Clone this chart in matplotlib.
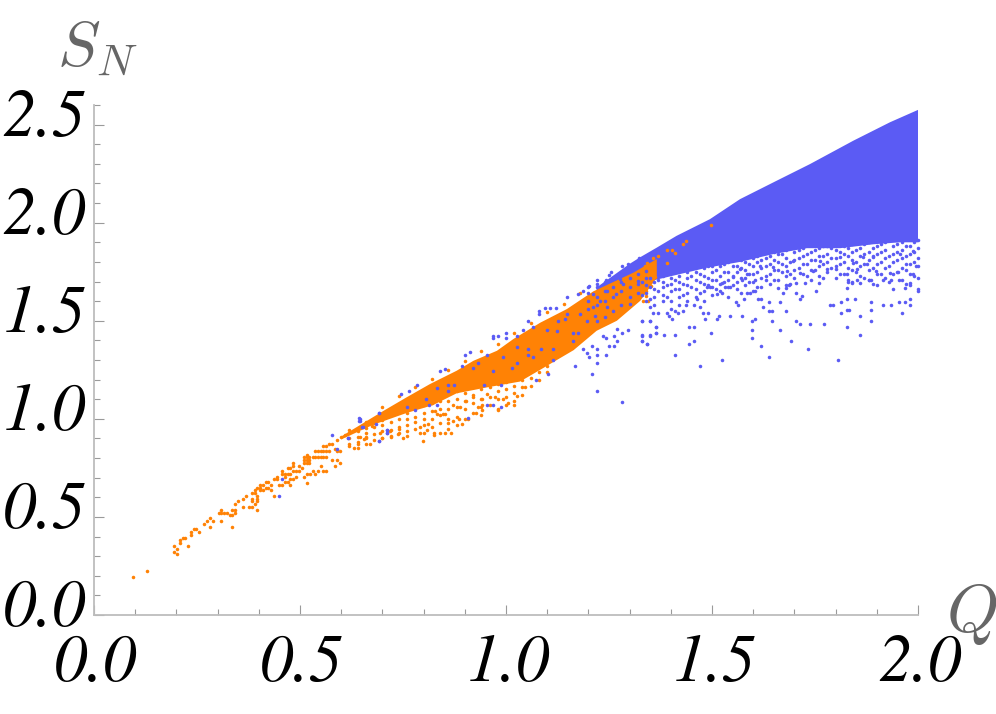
# Entropy vs charge scatter, two phases.

import matplotlib
matplotlib.use("Agg")
import matplotlib.pyplot as plt
import numpy as np
from matplotlib.ticker import MultipleLocator

plt.rcParams["mathtext.fontset"] = "cm"

BLUE = "#5b5bf4"
ORANGE = "#ff8205"

x_ticks = [0.0, 0.5, 1.0, 1.5, 2.0]
y_ticks = [0.0, 0.5, 1.0, 1.5, 2.0, 2.5]

# Outline of the solid (saturated) parts of each cloud
blue_band_q = [1.22, 1.30, 1.333, 1.366, 1.406, 1.487, 1.568, 1.649, 1.73, 1.811, 1.892, 1.957, 2.0]
blue_band_low = [1.60, 1.66, 1.69, 1.71, 1.73, 1.77, 1.80, 1.84, 1.87, 1.87, 1.89, 1.90, 1.90]
blue_band_q_top = [1.22, 1.30, 1.325, 1.366, 1.414, 1.495, 1.568, 1.657, 1.738, 1.843, 1.932, 2.0]
blue_band_top = [1.67, 1.79, 1.823, 1.873, 1.933, 2.018, 2.12, 2.214, 2.299, 2.418, 2.512, 2.575]

orange_band_q = [0.60, 0.678, 0.759, 0.823, 0.88, 0.953, 1.034, 1.083, 1.164, 1.22, 1.269, 1.326, 1.366]
orange_band_low = [0.895, 0.97, 1.03, 1.07, 1.13, 1.16, 1.19, 1.25, 1.35, 1.449, 1.50, 1.602, 1.72]
orange_band_q_top = [0.60, 0.702, 0.759, 0.816, 0.88, 0.921, 0.978, 1.018, 1.083, 1.148, 1.212, 1.309, 1.366]
orange_band_top = [0.91, 1.04, 1.11, 1.178, 1.245, 1.296, 1.347, 1.407, 1.49, 1.56, 1.65, 1.745, 1.815]

# Loose points
orange_q = [
    0.094, 0.128, 0.195, 0.195, 0.201, 0.201, 0.208, 0.208, 0.215, 0.222, 0.229, 0.236, 0.236, 0.242, 0.248,
    0.255, 0.268, 0.275, 0.282, 0.282, 0.289, 0.303, 0.309, 0.309, 0.309, 0.316, 0.322, 0.329, 0.336, 0.336,
    0.336, 0.342, 0.342, 0.342, 0.349, 0.362, 0.362, 0.370, 0.377, 0.384, 0.384, 0.384, 0.39, 0.396, 0.396,
    0.396, 0.396, 0.384, 0.39, 0.39, 0.396, 0.404, 0.404, 0.41, 0.404, 0.41, 0.417, 0.423, 0.417, 0.423,
    0.43, 0.43, 0.437, 0.437, 0.443, 0.443, 0.45, 0.456, 0.456, 0.456, 0.463, 0.463, 0.47, 0.476, 0.47,
    0.476, 0.484, 0.484, 0.484, 0.463, 0.47, 0.476, 0.484, 0.476, 0.49, 0.49, 0.497, 0.497, 0.504, 0.51,
    0.517, 0.523, 0.51, 0.517, 0.523, 0.51, 0.517, 0.523, 0.517, 0.517, 0.51, 0.517, 0.524, 0.531, 0.537,
    0.544, 0.557, 0.564, 0.537, 0.544, 0.551, 0.557, 0.564, 0.57, 0.531, 0.537, 0.544, 0.551, 0.557, 0.564,
    0.551, 0.578, 0.591, 0.584, 0.598, 0.571, 0.578, 0.557, 0.564, 0.584, 0.591, 0.597, 0.59, 0.60, 0.61,
    0.866, 0.853, 0.799, 0.826, 0.826, 0.809, 0.791, 0.759, 0.739, 0.718, 0.694, 0.674, 0.646, 0.892, 0.872,
    0.887, 0.908, 0.86, 0.848, 0.828, 0.888, 0.904, 0.926, 0.941, 0.933, 0.941, 0.953, 0.941, 0.981, 0.993,
    1.006, 1.02, 1.026, 1.046, 0.973, 0.92, 0.872, 0.852, 0.832, 0.811, 0.791, 0.63, 0.655, 0.67, 0.70,
    0.72, 0.74, 0.75, 0.62, 0.64, 0.66,
    1.497, 1.43, 1.437, 1.403, 1.41, 1.39, 1.369, 1.356, 1.343, 1.337, 1.39, 1.361, 1.349, 1.353, 1.333,
    1.333, 1.341, 1.329, 1.32, 1.31, 1.33, 1.345, 1.30, 1.34,
]
orange_s = [
    0.195, 0.224, 0.352, 0.323, 0.338, 0.31, 0.381, 0.366, 0.394, 0.394, 0.352, 0.423, 0.408, 0.437, 0.437,
    0.423, 0.466, 0.48, 0.494, 0.451, 0.48, 0.522, 0.536, 0.522, 0.478, 0.522, 0.522, 0.509, 0.451, 0.509,
    0.536, 0.536, 0.522, 0.565, 0.579, 0.592, 0.55, 0.606, 0.55, 0.55, 0.592, 0.579, 0.565, 0.536, 0.607,
    0.592, 0.579, 0.621, 0.621, 0.635, 0.648, 0.648, 0.662, 0.662, 0.635, 0.635, 0.677, 0.677, 0.648, 0.648,
    0.662, 0.635, 0.606, 0.691, 0.691, 0.704, 0.662, 0.662, 0.735, 0.718, 0.704, 0.718, 0.718, 0.718, 0.747,
    0.747, 0.777, 0.76, 0.733, 0.677, 0.677, 0.691, 0.691, 0.662, 0.704, 0.733, 0.733, 0.76, 0.747, 0.803,
    0.803, 0.803, 0.789, 0.789, 0.789, 0.775, 0.775, 0.775, 0.817, 0.718, 0.704, 0.675, 0.718, 0.733, 0.718,
    0.733, 0.733, 0.733, 0.834, 0.834, 0.834, 0.834, 0.834, 0.834, 0.803, 0.803, 0.803, 0.803, 0.803, 0.803,
    0.76, 0.789, 0.789, 0.76, 0.776, 0.874, 0.874, 0.861, 0.861, 0.846, 0.834, 0.834, 0.89, 0.905, 0.92,
    0.93, 0.93, 0.888, 0.93, 0.917, 0.944, 0.956, 0.913, 0.922, 0.939, 0.93, 0.964, 0.905, 0.973, 0.987,
    0.998, 0.998, 0.981, 1.024, 1.041, 1.058, 1.092, 1.029, 1.044, 1.058, 1.10, 1.129, 1.072, 1.044, 1.10,
    1.083, 1.072, 1.114, 1.16, 1.109, 1.109, 1.072, 1.024, 1.024, 0.973, 0.93, 0.85, 0.895, 0.87, 0.90,
    0.915, 0.95, 0.90, 0.86, 0.87, 0.905,
    1.99, 1.891, 1.905, 1.862, 1.848, 1.862, 1.831, 1.82, 1.792, 1.777, 1.792, 1.721, 1.752, 1.678, 1.653,
    1.602, 1.653, 1.738, 1.72, 1.70, 1.68, 1.60, 1.66, 1.625,
]

# Crowded rim of the orange band, one row per Q column
orange_col_q = [0.62, 0.64, 0.66, 0.68, 0.70, 0.72, 0.74, 0.76, 0.78, 0.80, 0.82, 0.84, 0.86,
                0.88, 0.90, 0.92, 0.94, 0.96, 0.98, 1.00, 1.02, 1.04, 1.06, 1.08, 1.10, 1.14, 1.18]
orange_col_s = [
    [0.87, 0.90, 0.93, 0.945], [0.85, 0.88, 0.91, 0.94], [0.87, 0.90, 0.93, 0.955, 0.985],
    [0.89, 0.925, 0.96, 0.98], [0.90, 0.94, 0.97, 0.995, 1.02, 1.06], [0.91, 0.945, 0.985, 1.03],
    [0.93, 0.96, 1.00, 1.05, 1.115], [0.94, 0.97, 1.00, 1.03], [0.95, 0.985, 1.01, 1.06, 1.16],
    [0.93, 0.97, 1.00, 1.03, 1.07], [0.96, 1.00, 1.04, 1.08, 1.205], [0.93, 0.98, 1.02, 1.05, 1.09],
    [0.95, 1.00, 1.05, 1.09, 1.13, 1.25], [0.97, 1.01, 1.06, 1.10, 1.14], [1.00, 1.05, 1.09, 1.13, 1.17, 1.295],
    [1.03, 1.08, 1.12, 1.16, 1.19], [1.02, 1.06, 1.10, 1.15, 1.18, 1.345], [1.07, 1.11, 1.16, 1.20],
    [1.05, 1.10, 1.14, 1.18, 1.21, 1.38], [1.07, 1.11, 1.15, 1.19, 1.23], [1.09, 1.13, 1.17, 1.21, 1.44],
    [1.12, 1.16, 1.20, 1.23], [1.17, 1.21, 1.25, 1.49], [1.20, 1.24], [1.24, 1.27, 1.545],
    [1.585], [1.64],
]

blue_q = [
    # far below the saturated part
    1.471, 1.41, 1.525, 1.639, 1.806, 1.733, 1.619, 1.692, 1.598, 1.444, 1.457, 1.41, 1.383, 1.363, 1.349,
    1.329, 1.329, 1.343, 1.497, 1.598, 1.666, 1.827, 1.86, 1.444, 1.457, 1.363, 1.329, 1.349, 1.598, 1.605,
    1.645, 1.705, 1.713, 1.739, 1.772, 1.886, 1.86, 1.511, 1.518, 1.484, 1.544, 1.572, 1.403, 1.396, 1.369,
    1.356, 1.349, 1.39, 1.41, 1.43, 1.418, 1.477, 1.491, 1.471, 1.457, 1.464, 1.437,
    1.786, 1.793, 1.813, 1.827, 1.847, 1.813, 1.827, 1.833, 1.886, 1.886, 1.914, 1.934, 1.954, 1.968, 1.981,
    1.961, 1.981, 1.968, 1.981, 2.0, 1.954, 1.934, 1.914, 1.886, 1.88, 1.86, 1.853, 1.84, 1.831, 1.827,
    1.495, 1.489, 1.511, 1.525, 1.531, 1.544, 1.558, 1.564, 1.578, 1.584, 1.592, 1.605, 1.612, 1.619, 1.624,
    1.639, 1.645, 1.639, 1.666, 1.673, 1.679, 1.686, 1.659, 1.713, 1.705, 1.719, 1.753, 1.725, 1.759, 1.705,
    1.679, 1.632, 1.605, 1.572, 1.525, 1.552, 1.778, 1.802, 1.827, 1.851, 1.875, 1.899, 1.932, 1.952, 1.972,
    1.988, 1.996, 1.746, 1.713, 1.681, 1.649, 1.616, 1.584, 1.568, 1.697, 1.762, 1.81, 1.843, 1.891, 1.956,
    1.988, 1.867,
    # around and on the orange band
    1.282, 1.222, 1.209, 1.168, 1.222, 1.202, 1.196, 1.188, 1.222, 1.243, 1.222, 1.209, 1.249, 1.263, 1.269,
    1.236, 1.243, 1.263, 1.282, 1.296, 1.269, 1.33, 1.343, 1.349, 1.33, 1.363, 1.363, 1.33, 1.349, 1.101,
    1.074, 0.947, 0.953, 0.968, 0.987, 0.907, 0.84, 0.853, 0.785, 0.765, 0.746, 0.90, 0.913, 0.968, 0.98,
    0.968, 1.0, 1.0, 1.054, 1.081, 1.081, 1.095, 1.108, 1.121, 1.148, 1.175, 1.188, 1.202, 1.222, 1.243,
    1.249, 1.256, 1.282, 1.296, 1.323, 0.646, 0.646, 0.692, 0.711, 0.711, 0.617, 0.692, 0.652,
    0.759, 0.779, 0.806, 0.812, 0.832, 0.832, 0.86, 0.873, 0.86, 0.893, 0.92, 0.933, 0.953, 0.968, 0.987,
    1.014, 1.027, 0.993, 1.027, 1.054, 1.054, 1.086, 1.115, 1.115, 1.066, 1.026, 1.042, 1.066, 1.099, 1.127,
    1.147, 1.163, 1.175, 1.163, 1.196, 1.216, 1.228, 1.244, 1.212, 1.268, 1.285, 1.301, 1.321, 1.341, 1.277,
    1.244, 1.212, 1.179, 1.143, 1.123,
    # thin left tail
    0.45, 0.456, 0.578, 0.591, 0.617, 0.644, 0.644, 0.651, 0.684, 0.692, 0.692, 0.712, 0.712,
]
blue_s = [
    1.271, 1.327, 1.299, 1.313, 1.299, 1.356, 1.369, 1.398, 1.412, 1.384, 1.398, 1.425, 1.425, 1.44, 1.425,
    1.425, 1.398, 1.384, 1.44, 1.454, 1.454, 1.468, 1.425, 1.468, 1.468, 1.468, 1.497, 1.497, 1.497, 1.51,
    1.497, 1.497, 1.483, 1.483, 1.483, 1.497, 1.524, 1.51, 1.524, 1.51, 1.524, 1.524, 1.51, 1.524, 1.539,
    1.539, 1.568, 1.539, 1.551, 1.551, 1.539, 1.539, 1.539, 1.568, 1.582, 1.61, 1.582,
    1.582, 1.582, 1.595, 1.61, 1.61, 1.539, 1.553, 1.553, 1.595, 1.553, 1.582, 1.582, 1.595, 1.595, 1.582,
    1.539, 1.61, 1.667, 1.694, 1.653, 1.709, 1.709, 1.709, 1.709, 1.709, 1.694, 1.709, 1.694, 1.709, 1.667,
    1.67, 1.67, 1.636, 1.64, 1.67, 1.67, 1.595, 1.582, 1.61, 1.64, 1.64, 1.653, 1.61, 1.61, 1.568,
    1.551, 1.551, 1.595, 1.595, 1.64, 1.667, 1.68, 1.667, 1.61, 1.64, 1.627, 1.653, 1.695, 1.695, 1.695,
    1.551, 1.709, 1.709, 1.709, 1.695, 1.721, 1.764, 1.764, 1.738, 1.764, 1.789, 1.755, 1.746, 1.75, 1.789,
    1.738, 1.78, 1.755, 1.746, 1.755, 1.772, 1.78, 1.738, 1.764, 1.806, 1.806, 1.823, 1.797, 1.823, 1.84,
    1.857, 1.823,
    1.087, 1.143, 1.228, 1.269, 1.284, 1.313, 1.338, 1.354, 1.327, 1.327, 1.354, 1.369, 1.369, 1.369, 1.396,
    1.423, 1.41, 1.423, 1.44, 1.452, 1.457, 1.396, 1.381, 1.423, 1.423, 1.466, 1.437, 1.497, 1.497, 1.228,
    1.199, 1.172, 1.072, 1.072, 1.058, 1.002, 1.242, 1.255, 1.172, 1.143, 1.129, 1.327, 1.34, 1.423, 1.423,
    1.41, 1.44, 1.41, 1.497, 1.551, 1.537, 1.565, 1.565, 1.565, 1.622, 1.636, 1.65, 1.678, 1.707, 1.707,
    1.735, 1.748, 1.777, 1.791, 1.82, 1.0, 0.987, 1.029, 0.944, 0.93, 0.902, 0.888, 0.959,
    1.058, 1.044, 1.10, 1.072, 1.072, 1.157, 1.172, 1.172, 1.143, 1.27, 1.257, 1.284, 1.327, 1.242, 1.172,
    1.257, 1.284, 1.313, 1.367, 1.354, 1.327, 1.354, 1.354, 1.299, 1.313, 1.423, 1.452, 1.469, 1.452, 1.497,
    1.537, 1.44, 1.44, 1.398, 1.497, 1.526, 1.602, 1.568, 1.636, 1.636, 1.687, 1.585, 1.704, 1.755, 1.712,
    1.653, 1.568, 1.534, 1.508, 1.449,
    0.606, 0.691, 0.917, 0.846, 0.902, 1.002, 0.987, 0.959, 0.973, 1.029, 0.888, 0.944, 0.93,
]

# Crowded lower rim of the blue cloud, one row per Q column
blue_col_q = [1.20, 1.22, 1.24, 1.26, 1.28, 1.30, 1.32, 1.34, 1.36, 1.38, 1.40, 1.42, 1.44, 1.46, 1.48, 1.50, 1.52,
              1.54, 1.56, 1.58, 1.60, 1.62, 1.64, 1.66, 1.68, 1.70, 1.72, 1.74, 1.76, 1.78, 1.80, 1.82, 1.84,
              1.86, 1.88, 1.90, 1.92, 1.94, 1.96, 1.98, 2.00]
blue_col_s = [
    [1.56, 1.60, 1.64, 1.67], [1.50, 1.58, 1.62, 1.67, 1.69], [1.52, 1.60, 1.65, 1.70], [1.55, 1.62, 1.67, 1.72],
    [1.58, 1.65, 1.70, 1.75], [1.62, 1.67, 1.72, 1.77], [1.64, 1.69, 1.74, 1.79], [1.60, 1.64, 1.68, 1.72],
    [1.58, 1.62, 1.66, 1.70], [1.60, 1.63, 1.67, 1.70, 1.73], [1.56, 1.60, 1.65, 1.69, 1.72], [1.58, 1.62, 1.66, 1.70, 1.73],
    [1.60, 1.64, 1.68, 1.72, 1.75], [1.62, 1.66, 1.71, 1.75], [1.60, 1.65, 1.69, 1.73, 1.77], [1.63, 1.67, 1.71, 1.75, 1.78],
    [1.65, 1.69, 1.73, 1.78, 1.81], [1.62, 1.67, 1.71, 1.75, 1.80], [1.66, 1.70, 1.75, 1.78, 1.82], [1.68, 1.72, 1.76, 1.80, 1.84],
    [1.65, 1.70, 1.74, 1.78, 1.82, 1.85], [1.67, 1.72, 1.77, 1.81, 1.85], [1.69, 1.74, 1.79, 1.83, 1.87], [1.71, 1.76, 1.80, 1.84, 1.88],
    [1.68, 1.73, 1.78, 1.82, 1.86, 1.90], [1.72, 1.76, 1.81, 1.85, 1.89], [1.74, 1.79, 1.83, 1.87, 1.91], [1.71, 1.76, 1.81, 1.85, 1.89],
    [1.73, 1.78, 1.83, 1.87, 1.91], [1.75, 1.80, 1.84, 1.88, 1.92], [1.72, 1.78, 1.82, 1.86, 1.90], [1.74, 1.80, 1.84, 1.88],
    [1.70, 1.76, 1.81, 1.85, 1.89, 1.92], [1.73, 1.78, 1.83, 1.87, 1.91], [1.71, 1.76, 1.81, 1.85, 1.90], [1.68, 1.74, 1.79, 1.84, 1.88, 1.92],
    [1.72, 1.77, 1.82, 1.86, 1.90], [1.66, 1.74, 1.80, 1.84, 1.88, 1.92], [1.71, 1.77, 1.82, 1.86, 1.90, 1.93], [1.68, 1.74, 1.79, 1.84, 1.88, 1.92],
    [1.66, 1.72, 1.78, 1.82, 1.87, 1.91],
]

# Same rim, the columns in between
blue_gap_q = [1.33, 1.35, 1.37, 1.39, 1.41, 1.43, 1.45, 1.47, 1.49, 1.51, 1.53, 1.55, 1.57, 1.59, 1.61, 1.63, 1.65,
              1.67, 1.69, 1.71, 1.73, 1.75, 1.77, 1.79, 1.81, 1.83, 1.85, 1.87, 1.89, 1.91, 1.93, 1.95, 1.97, 1.99]
blue_gap_s = [
    [1.63, 1.70], [1.61, 1.67, 1.72], [1.65, 1.71], [1.62, 1.68, 1.74], [1.66, 1.71, 1.75], [1.63, 1.69, 1.76],
    [1.67, 1.73, 1.77], [1.64, 1.70, 1.74, 1.79], [1.68, 1.72, 1.78], [1.66, 1.71, 1.76, 1.80], [1.70, 1.75, 1.79, 1.82],
    [1.68, 1.73, 1.78, 1.83], [1.64, 1.72, 1.77, 1.81], [1.70, 1.74, 1.79, 1.85], [1.67, 1.75, 1.80, 1.83], [1.73, 1.78, 1.82, 1.87],
    [1.71, 1.76, 1.81, 1.85], [1.75, 1.79, 1.84, 1.88], [1.69, 1.74, 1.80, 1.87, 1.91], [1.77, 1.82, 1.86, 1.90], [1.73, 1.79, 1.84, 1.89],
    [1.76, 1.81, 1.86, 1.92], [1.72, 1.79, 1.83, 1.88], [1.77, 1.82, 1.87, 1.90], [1.74, 1.79, 1.85, 1.91], [1.70, 1.77, 1.83, 1.87],
    [1.75, 1.80, 1.86, 1.90], [1.72, 1.79, 1.84, 1.89], [1.69, 1.77, 1.83, 1.87, 1.92], [1.74, 1.80, 1.85, 1.89], [1.70, 1.78, 1.83, 1.91],
    [1.75, 1.81, 1.85, 1.89], [1.69, 1.76, 1.83, 1.88, 1.92], [1.73, 1.80, 1.85, 1.90],
]


def _flatten_columns(col_q, col_s) -> tuple[np.ndarray, np.ndarray]:
    return np.repeat(col_q, [len(row) for row in col_s]), np.concatenate(col_s)


def plot_entropy(output_path: str) -> None:
    fig = plt.figure(figsize=(9.96, 7.14), dpi=100)
    ax = fig.add_axes([94 / 996, 1 - 615 / 714, 824 / 996, 510 / 714])

    ax.fill(
        np.r_[blue_band_q_top, blue_band_q[::-1]],
        np.r_[blue_band_top, blue_band_low[::-1]],
        color=BLUE,
        linewidth=0,
        zorder=2,
    )
    ax.fill(
        np.r_[orange_band_q_top, orange_band_q[::-1]],
        np.r_[orange_band_top, orange_band_low[::-1]],
        color=ORANGE,
        linewidth=0,
        zorder=3,
    )
    rim_q, rim_s = _flatten_columns(orange_col_q, orange_col_s)
    ax.scatter(orange_q, orange_s, s=6.5, c=ORANGE, linewidths=0, zorder=4, clip_on=False)
    ax.scatter(rim_q, rim_s, s=6.5, c=ORANGE, linewidths=0, zorder=4, clip_on=False)
    ax.scatter(blue_q, blue_s, s=6.5, c=BLUE, linewidths=0, zorder=5, clip_on=False)
    for col_q, col_s in ((blue_col_q, blue_col_s), (blue_gap_q, blue_gap_s)):
        rim_q, rim_s = _flatten_columns(col_q, col_s)
        ax.scatter(rim_q, rim_s, s=6.5, c=BLUE, linewidths=0, zorder=5, clip_on=False)

    ax.set_xlim(0, 2)
    ax.set_ylim(0, 2.6)
    ax.spines["top"].set_visible(False)
    ax.spines["right"].set_visible(False)
    for side in ("left", "bottom"):
        ax.spines[side].set_color("#bdbdbd")
        ax.spines[side].set_linewidth(1.3)

    ax.set_xticks(x_ticks)
    ax.set_yticks(y_ticks)
    ax.xaxis.set_minor_locator(MultipleLocator(0.1))
    ax.yaxis.set_minor_locator(MultipleLocator(0.1))
    ax.tick_params(which="major", direction="in", length=7.5, width=0.8, color="#9a9a9a")
    ax.tick_params(which="minor", direction="in", length=4.5, width=0.8, color="#9a9a9a")
    ax.set_xticklabels([])
    ax.set_yticklabels([])

    label_style = dict(fontsize=48, family="STIXGeneral", style="italic", color="black", annotation_clip=False)
    for q in x_ticks:
        ax.annotate(f"{q:.1f}", (q, 0), xytext=(2, -50), textcoords="offset pixels",
                    ha="center", va="center", **label_style)
    for s in y_ticks:
        ax.annotate(f"{s:.1f}", (0, s), xytext=(-8, 5), textcoords="offset pixels",
                    ha="right", va="center", **label_style)

    fig.text(57 / 996, 1 - 66 / 714, r"$S_N$", fontsize=46, color="#666666", ha="left", va="baseline")
    fig.text(946 / 996, 1 - 632 / 714, r"$Q$", fontsize=48, color="#666666", ha="left", va="baseline")

    fig.savefig(output_path, dpi=100)
    plt.close(fig)


plot_entropy("out.png")
